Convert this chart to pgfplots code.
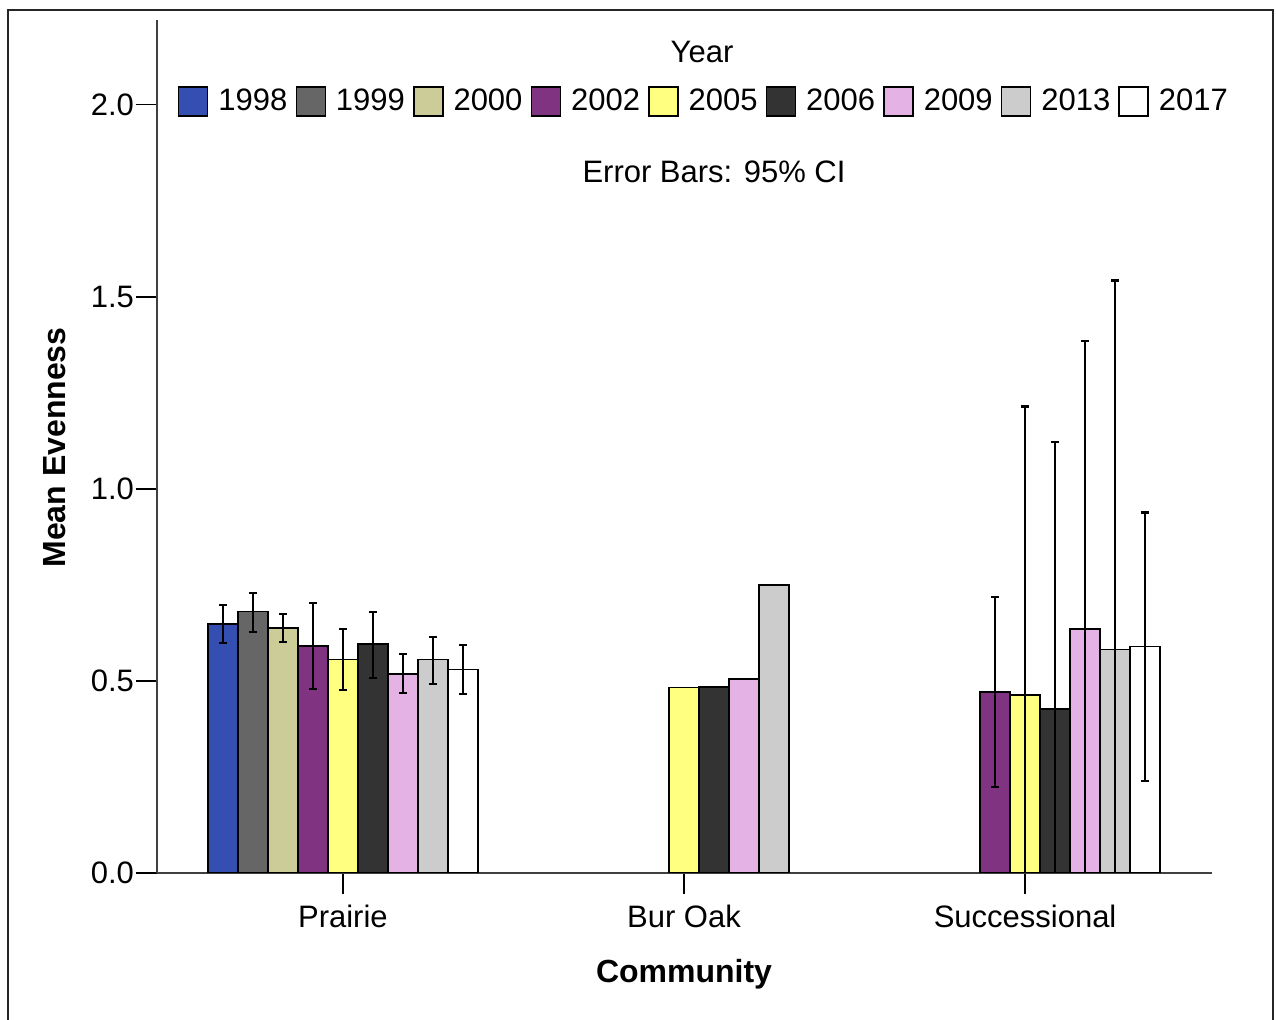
\documentclass[border=0pt]{standalone}
\usepackage{fontspec}
\setmainfont{Liberation Sans}
\usepackage{pgfplots}
\pgfplotsset{compat=1.18}
\usepackage{pgfplotstable}

\definecolor{c1998}{RGB}{52,78,178}
\definecolor{c1999}{RGB}{102,102,102}
\definecolor{c2000}{RGB}{204,204,153}
\definecolor{c2002}{RGB}{128,51,128}
\definecolor{c2005}{RGB}{255,255,128}
\definecolor{c2006}{RGB}{51,51,51}
\definecolor{c2009}{RGB}{229,178,229}
\definecolor{c2013}{RGB}{204,204,204}
\definecolor{c2017}{RGB}{255,255,255}

% x = community (0 Prairie, 1 Bur Oak, 2 Successional)
% y = mean evenness; ep = upper CI - mean; em = mean - lower CI
\pgfplotstableread{
x y ep em
0 0.648 0.050 0.049
}\tA
\pgfplotstableread{
x y ep em
0 0.680 0.049 0.052
}\tB
\pgfplotstableread{
x y ep em
0 0.638 0.036 0.036
}\tC
\pgfplotstableread{
x y ep em
0 0.591 0.112 0.112
2 0.471 0.248 0.247
}\tD
\pgfplotstableread{
x y ep em
0 0.555 0.080 0.078
2 0.463 0.751 0.751
}\tE
\pgfplotstableread{
x y ep em
0 0.596 0.084 0.088
2 0.427 0.695 0.695
}\tF
\pgfplotstableread{
x y ep em
0 0.518 0.052 0.049
2 0.635 0.750 0.750
}\tG
\pgfplotstableread{
x y ep em
0 0.555 0.060 0.063
2 0.581 0.961 0.961
}\tH
\pgfplotstableread{
x y ep em
0 0.529 0.065 0.063
2 0.589 0.349 0.349
}\tI
% Bur Oak (no error bars)
\pgfplotstableread{
x y
1 0.482
}\oE
\pgfplotstableread{
x y
1 0.484
}\oF
\pgfplotstableread{
x y
1 0.505
}\oG
\pgfplotstableread{
x y
1 0.750
}\oH

\pgfplotsset{
  barsty/.style={ybar, bar width=0.08798, draw=black, line width=0.7pt},
  oaksty/.style={ybar, bar width=0.08798, draw=black, line width=0.7pt, forget plot},
  errsty/.style={forget plot, draw=none, mark=none,
    error bars/y dir=both, error bars/y explicit,
    error bars/error mark=-,
    error bars/error bar style={draw=black, solid, line width=1.1pt},
    error bars/error mark options={rotate=90, draw=black, solid, line width=1.1pt, mark size=1.9pt}},
}

\begin{document}
\begin{tikzpicture}
\useasboundingbox (0pt,0pt) rectangle (638pt,509.5pt);
% outer frame
\draw[line width=1.4pt, black!85] (4pt,-2pt) -- (4pt,504.5pt) -- (636.5pt,504.5pt) -- (636.5pt,-2pt);

\begin{axis}[
  at={(78.5pt,73pt)}, anchor=south west,
  scale only axis, width=527.5pt, height=426.5pt,
  xmin=-0.545, xmax=2.548, ymin=0, ymax=2.22,
  axis x line*=bottom, axis y line*=left,
  axis line style={-, draw=black!75, line width=0.8pt},
  xtick={0,1,2}, xticklabels={Prairie,Bur Oak,Successional},
  ytick={0,0.5,1,1.5,2},
  tick align=outside, major tick length=10.5pt,
  tick style={black, line width=0.9pt},
  tick label style={font=\fontsize{15.5}{18}\selectfont},
  xticklabel style={anchor=base, yshift=-16.5pt},
  yticklabel style={anchor=east, xshift=2.5pt},
  /pgf/number format/.cd, fixed, fixed zerofill, precision=1, assume math mode=true,
  /pgfplots/.cd,
  legend columns=9,
  legend style={draw=none, fill=none, inner sep=0pt, outer sep=0pt,
    at={(axis description cs:0.0199,0.9045)}, anchor=west,
    font=\fontsize{15.5}{18}\selectfont,
    nodes={inner sep=0pt, anchor=west},
    /tikz/every odd column/.append style={column sep=5pt},
    /tikz/every even column/.append style={column sep=4.1pt}},
  legend image code/.code={\draw[#1, line width=0.7pt] (0pt,-7.25pt) rectangle (14.5pt,7.25pt);},
]
\addplot[barsty, fill=c1998, bar shift=-0.35192] table[x=x,y=y]{\tA};
\addplot[barsty, fill=c1999, bar shift=-0.26394] table[x=x,y=y]{\tB};
\addplot[barsty, fill=c2000, bar shift=-0.17596] table[x=x,y=y]{\tC};
\addplot[barsty, fill=c2002, bar shift=-0.08798] table[x=x,y=y]{\tD};
\addplot[barsty, fill=c2005, bar shift=0] table[x=x,y=y]{\tE};
\addplot[barsty, fill=c2006, bar shift=0.08798] table[x=x,y=y]{\tF};
\addplot[barsty, fill=c2009, bar shift=0.17596] table[x=x,y=y]{\tG};
\addplot[barsty, fill=c2013, bar shift=0.26394] table[x=x,y=y]{\tH};
\addplot[barsty, fill=c2017, bar shift=0.35192] table[x=x,y=y]{\tI};
\legend{1998,1999,2000,2002,2005,2006,2009,2013,2017}

\addplot[oaksty, fill=c2005, bar shift=0] table[x=x,y=y]{\oE};
\addplot[oaksty, fill=c2006, bar shift=0.08798] table[x=x,y=y]{\oF};
\addplot[oaksty, fill=c2009, bar shift=0.17596] table[x=x,y=y]{\oG};
\addplot[oaksty, fill=c2013, bar shift=0.26394] table[x=x,y=y]{\oH};

% 95% CI error bars, at each bar's centre
\addplot[errsty] table[x expr=\thisrow{x}-0.35192,y=y,y error plus=ep,y error minus=em]{\tA};
\addplot[errsty] table[x expr=\thisrow{x}-0.26394,y=y,y error plus=ep,y error minus=em]{\tB};
\addplot[errsty] table[x expr=\thisrow{x}-0.17596,y=y,y error plus=ep,y error minus=em]{\tC};
\addplot[errsty] table[x expr=\thisrow{x}-0.08798,y=y,y error plus=ep,y error minus=em]{\tD};
\addplot[errsty] table[x expr=\thisrow{x},y=y,y error plus=ep,y error minus=em]{\tE};
\addplot[errsty] table[x expr=\thisrow{x}+0.08798,y=y,y error plus=ep,y error minus=em]{\tF};
\addplot[errsty] table[x expr=\thisrow{x}+0.17596,y=y,y error plus=ep,y error minus=em]{\tG};
\addplot[errsty] table[x expr=\thisrow{x}+0.26394,y=y,y error plus=ep,y error minus=em]{\tH};
\addplot[errsty] table[x expr=\thisrow{x}+0.35192,y=y,y error plus=ep,y error minus=em]{\tI};
\end{axis}

\node[anchor=base, font=\fontsize{15.5}{18}\selectfont] at (351pt,478pt) {Year};
\node[anchor=base, font=\fontsize{15.5}{18}\selectfont] at (357pt,418pt) {Error Bars: 95\% CI};
\node[anchor=base, rotate=90, font=\fontsize{16}{19}\selectfont\bfseries] at (32.5pt,285.75pt) {Mean Evenness};
\node[anchor=base, font=\fontsize{16}{19}\selectfont\bfseries] at (342pt,18.5pt) {Community};
\end{tikzpicture}
\end{document}
